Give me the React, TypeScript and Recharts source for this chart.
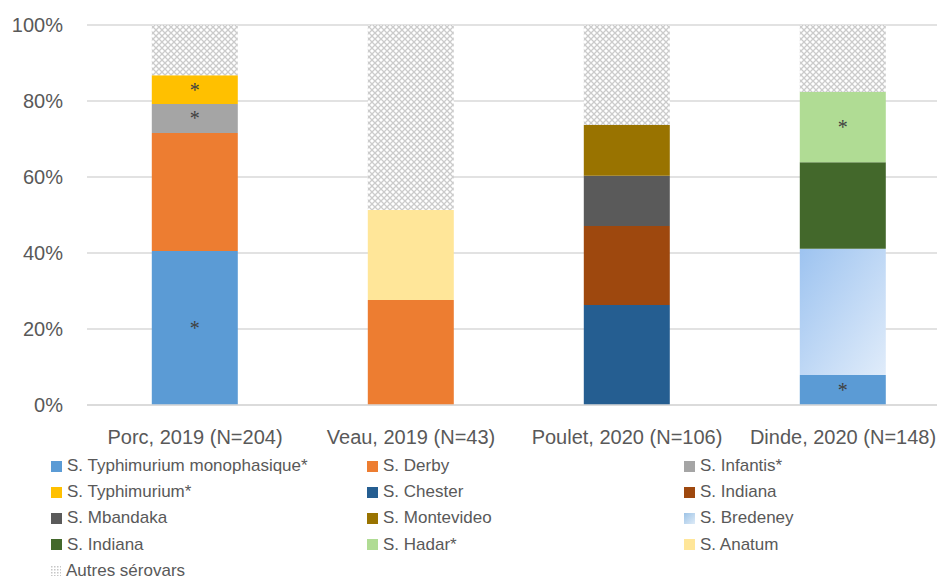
import { BarChart, Bar, XAxis, YAxis, CartesianGrid, Legend, LabelList } from "recharts";

const categories = ["Porc, 2019 (N=204)", "Veau, 2019 (N=43)", "Poulet, 2020 (N=106)", "Dinde, 2020 (N=148)"];

// % of isolates per category, bottom of stack to top
const typhiMono = [40.5, 0, 0, 7.9];
const derby = [31.1, 27.6, 0, 0];
const infantis = [7.6, 0, 0, 0];
const typhimurium = [7.6, 0, 0, 0];
const chester = [0, 0, 26.3, 0];
const indianaPoulet = [0, 0, 20.8, 0];
const mbandaka = [0, 0, 13.2, 0];
const montevideo = [0, 0, 13.4, 0];
const bredeney = [0, 0, 0, 33.2];
const indianaDinde = [0, 0, 0, 22.8];
const hadar = [0, 0, 0, 18.5];
const anatum = [0, 23.7, 0, 0];
const autres = [13.2, 48.7, 26.3, 17.6];

const yTicks = [0, 20, 40, 60, 80, 100];

const series = [
  { key: "typhiMono", name: "S. Typhimurium monophasique*", values: typhiMono, fill: "#5B9BD5", star: true },
  { key: "derby", name: "S. Derby", values: derby, fill: "#ED7D31", star: false },
  { key: "infantis", name: "S. Infantis*", values: infantis, fill: "#A5A5A5", star: true },
  { key: "typhimurium", name: "S. Typhimurium*", values: typhimurium, fill: "#FFC000", star: true },
  { key: "chester", name: "S. Chester", values: chester, fill: "#255E91", star: false },
  { key: "indianaPoulet", name: "S. Indiana", values: indianaPoulet, fill: "#9E480E", star: false },
  { key: "mbandaka", name: "S. Mbandaka", values: mbandaka, fill: "#5A5A5A", star: false },
  { key: "montevideo", name: "S. Montevideo", values: montevideo, fill: "#997300", star: false },
  { key: "bredeney", name: "S. Bredeney", values: bredeney, fill: "url(#bredeneyGrad)", star: false },
  { key: "indianaDinde", name: "S. Indiana", values: indianaDinde, fill: "#43682B", star: false },
  { key: "hadar", name: "S. Hadar*", values: hadar, fill: "#B0DC94", star: true },
  { key: "anatum", name: "S. Anatum", values: anatum, fill: "#FFE699", star: false },
  { key: "autres", name: "Autres sérovars", values: autres, fill: "url(#autresPattern)", star: false },
];

const data = categories.map((cat, i) => {
  const row: Record<string, string | number> = { cat };
  series.forEach((s) => (row[s.key] = s.values[i]));
  return row;
});

const font = "'Liberation Sans', Arial, sans-serif";

const StarLabel = (props: any) => {
  const { x, y, width, height, value } = props;
  if (!value) return null;
  return (
    <text x={x + width / 2} y={y + height / 2} dy={7} textAnchor="middle" fontSize={20} fill="#404040">
      *
    </text>
  );
};

const Swatch = ({ fill }: { fill: string }) => {
  if (fill === "url(#autresPattern)") {
    return (
      <svg width={10} height={10} style={{ marginRight: 5 }}>
        <defs>
          <pattern id="autresSwatch" width="3" height="3" patternUnits="userSpaceOnUse">
            <rect width="3" height="3" fill="#fff" />
            <rect width="1.5" height="1.5" fill="#C6C6C6" />
          </pattern>
        </defs>
        <rect width={10} height={10} fill="url(#autresSwatch)" />
      </svg>
    );
  }
  const bg = fill === "url(#bredeneyGrad)" ? "linear-gradient(135deg, #9DC3E6, #DEEBF7)" : fill;
  return <span style={{ display: "inline-block", width: 11, height: 11, background: bg, marginRight: 5 }} />;
};

const LegendGrid = () => (
  <div
    style={{
      display: "grid",
      gridTemplateColumns: "316px 317px 250px",
      paddingLeft: 51,
      paddingTop: 8,
      fontFamily: font,
      fontSize: 17,
      color: "#595959",
    }}
  >
    {series.map((s) => (
      <div key={s.key} style={{ height: 26.2, display: "flex", alignItems: "center", whiteSpace: "nowrap" }}>
        <Swatch fill={s.fill} />
        {s.name}
      </div>
    ))}
  </div>
);

export default function App() {
  return (
    <div style={{ position: "absolute", left: 0, top: 0, width: 937, height: 580, overflow: "hidden", background: "#fff" }}>
      <BarChart
        width={1000}
        height={580}
        data={data}
        margin={{ top: 25, right: 49, bottom: 0, left: 0 }}
        barCategoryGap="30%"
      >
        <defs>
          <linearGradient id="bredeneyGrad" x1="0" y1="0" x2="1" y2="1">
            <stop offset="0%" stopColor="#9DC3F0" />
            <stop offset="100%" stopColor="#E0ECFA" />
          </linearGradient>
          <pattern id="autresPattern" width="6" height="6" patternUnits="userSpaceOnUse">
            <rect width="6" height="6" fill="#fff" />
            <path d="M0,0 L6,6 M6,0 L0,6" stroke="#CBCBCB" strokeWidth={1.3} />
          </pattern>
        </defs>
        <CartesianGrid vertical={false} stroke="#D9D9D9" strokeWidth={1.5} />
        <XAxis
          dataKey="cat"
          height={40}
          axisLine={{ stroke: "#D9D9D9", strokeWidth: 1.5 }}
          tickLine={false}
          tickMargin={19}
          interval={0}
          tick={{ fontSize: 20, fill: "#595959", fontFamily: font }}
        />
        <YAxis
          width={87}
          domain={[0, 100]}
          ticks={yTicks}
          tickFormatter={(v: number) => `${v}%`}
          axisLine={false}
          tickLine={false}
          tickMargin={18}
          tick={{ fontSize: 20, fill: "#595959", fontFamily: font }}
        />
        <Legend
          verticalAlign="bottom"
          content={<LegendGrid />}
          wrapperStyle={{ left: 0, width: 937, height: 135 }}
        />
        {series.map((s) => (
          <Bar key={s.key} dataKey={s.key} name={s.name} stackId="a" fill={s.fill} isAnimationActive={false}>
            {s.star && <LabelList dataKey={s.key} content={<StarLabel />} />}
          </Bar>
        ))}
      </BarChart>
    </div>
  );
}
